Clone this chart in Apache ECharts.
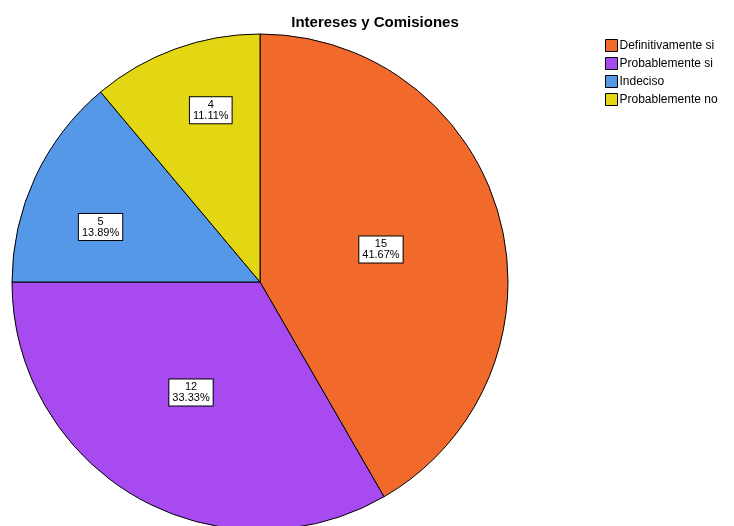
<!DOCTYPE html>
<html><head><meta charset="utf-8">
<script src="https://cdn.jsdelivr.net/npm/echarts@6/dist/echarts.min.js"></script>
<style>html,body{margin:0;padding:0;background:#fff}#c{width:734px;height:526px}</style>
</head><body><div id="c"></div>
<script>
const categories = ['Definitivamente si', 'Probablemente si', 'Indeciso', 'Probablemente no'];
const counts = [15, 12, 5, 4];
const colors = ['#f2692c', '#a74bf1', '#5598e8', '#e3d612'];
const labelRadiusFrac = [0.505, 0.525, 0.68, 0.72];
const labelAngleShift = [0, 2, -6, 4];

const total = counts.reduce((a, b) => a + b, 0);
const cx = 260, cy = 282, R = 248;
const chart = echarts.init(document.getElementById('c'));
chart.setOption({
  animation: false,
  title: {
    text: 'Intereses y Comisiones', left: 370, top: 10, textAlign: 'center',
    textStyle: { fontFamily: 'Liberation Sans', fontSize: 15, fontWeight: 'bold', color: '#000' }
  },
  legend: {
    orient: 'vertical', left: 600, top: 34, itemWidth: 12, itemHeight: 12, itemGap: 5,
    icon: 'rect',
    itemStyle: { borderColor: '#000', borderWidth: 1 },
    textStyle: { fontFamily: 'Liberation Sans', fontSize: 12, color: '#000', padding: [0, 0, 0, -3] },
    data: categories
  },
  series: [{
    type: 'pie', center: [cx, cy], radius: [0, R], startAngle: 90, clockwise: true,
    avoidLabelOverlap: false,
    itemStyle: { borderColor: '#000', borderWidth: 1 },
    label: {
      position: 'inside', color: '#000', fontFamily: 'Liberation Sans', fontSize: 11, lineHeight: 11,
      backgroundColor: '#fff', borderColor: '#000', borderWidth: 1, padding: [3, 3, 1, 3], align: 'center',
      formatter: p => p.value + '\n' + (p.value / total * 100).toFixed(2) + '%'
    },
    labelLayout: function (p) {
      const r = p.labelRect;
      const lx = r.x + r.width / 2, ly = r.y + r.height / 2;
      const a = Math.atan2(ly - cy, lx - cx) + labelAngleShift[p.dataIndex] * Math.PI / 180;
      const d = R * labelRadiusFrac[p.dataIndex];
      return { x: cx + Math.cos(a) * d, y: cy + Math.sin(a) * d };
    },
    emphasis: { disabled: true },
    data: categories.map((n, i) => ({ name: n, value: counts[i], itemStyle: { color: colors[i] } }))
  }]
});
</script></body></html>
